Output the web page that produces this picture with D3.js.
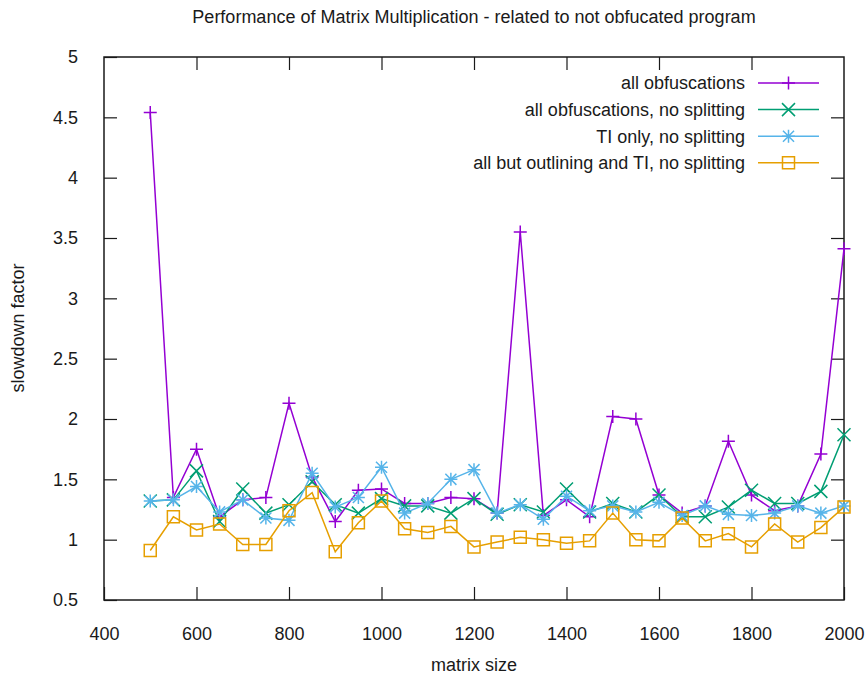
<!DOCTYPE html>
<html>
<head>
<meta charset="utf-8">
<script src="https://cdn.jsdelivr.net/npm/d3@7"></script>
<style>
  body { margin: 0; background: #fff; }
  text { font-family: "Liberation Sans", Arial, sans-serif; fill: #1a1a1a; }
</style>
</head>
<body>
<div id="chart"></div>
<script>
// matrix sizes
var sizes = [500, 550, 600, 650, 700, 750, 800, 850, 900, 950, 1000, 1050, 1100, 1150, 1200,
  1250, 1300, 1350, 1400, 1450, 1500, 1550, 1600, 1650, 1700, 1750, 1800, 1850, 1900, 1950, 2000];

// slowdown factors
var allObf = [4.54, 1.35, 1.75, 1.19, 1.33, 1.35, 2.13, 1.52, 1.15, 1.41, 1.42, 1.30, 1.30, 1.35, 1.34,
  1.22, 3.55, 1.20, 1.33, 1.19, 2.02, 2.00, 1.37, 1.22, 1.28, 1.815, 1.37, 1.24, 1.28, 1.71, 3.41];
var allObfNoSplit = [1.32, 1.33, 1.57, 1.15, 1.42, 1.22, 1.29, 1.48, 1.29, 1.22, 1.34, 1.28, 1.28, 1.22, 1.34,
  1.21, 1.29, 1.23, 1.42, 1.23, 1.30, 1.23, 1.37, 1.19, 1.19, 1.27, 1.41, 1.30, 1.30, 1.40, 1.87];
var tiOnly = [1.32, 1.33, 1.44, 1.23, 1.33, 1.18, 1.16, 1.55, 1.27, 1.35, 1.60, 1.22, 1.30, 1.50, 1.58,
  1.22, 1.29, 1.17, 1.36, 1.24, 1.28, 1.23, 1.31, 1.20, 1.28, 1.21, 1.20, 1.22, 1.28, 1.22, 1.28];
var butOutlining = [0.91, 1.19, 1.08, 1.13, 0.96, 0.96, 1.24, 1.39, 0.90, 1.14, 1.32, 1.09, 1.06, 1.11, 0.94,
  0.98, 1.02, 1.00, 0.97, 0.99, 1.22, 1.00, 0.99, 1.18, 0.99, 1.05, 0.94, 1.13, 0.98, 1.10, 1.27];

var seriesNames = ["all obfuscations", "all obfuscations, no splitting",
  "TI only, no splitting", "all but outlining and TI, no splitting"];
var seriesColors = ["#9400d3", "#009e73", "#56b4e9", "#e69f00"];
var seriesMarks = ["plus", "cross", "star", "square"];
var seriesValues = [allObf, allObfNoSplit, tiOnly, butOutlining];

var xTicks = [400, 600, 800, 1000, 1200, 1400, 1600, 1800, 2000];
var yTicks = [0.5, 1, 1.5, 2, 2.5, 3, 3.5, 4, 4.5, 5];

var W = 867, H = 678;
var margin = {top: 57, right: 23, bottom: 78, left: 104},
    width = W - margin.left - margin.right,
    height = H - margin.top - margin.bottom;

var fontSize = "18px";

var svg = d3.select("#chart").append("svg")
    .attr("width", W)
    .attr("height", H);

var g = svg.append("g")
    .attr("transform", "translate(" + margin.left + "," + margin.top + ")");

var x = d3.scaleLinear().domain([400, 2000]).range([0, width]);
var y = d3.scaleLinear().domain([0.5, 5]).range([height, 0]);

// axes with inward ticks, mirrored on top and right like gnuplot
function styleAxis(sel) {
  sel.select(".domain").remove();
  sel.selectAll("line").attr("stroke", "#1a1a1a").attr("stroke-width", 1.2);
  sel.selectAll("text").style("font-size", fontSize);
}

g.append("g")
    .attr("transform", "translate(0," + height + ")")
    .call(d3.axisBottom(x).tickValues(xTicks).tickSizeInner(-13).tickSizeOuter(0).tickPadding(27)
      .tickFormat(d3.format("d")))
    .call(styleAxis);
g.append("g")
    .call(d3.axisTop(x).tickValues(xTicks.slice(1, -1)).tickSizeInner(-13).tickSizeOuter(0).tickFormat(""))
    .call(styleAxis);
g.append("g")
    .call(d3.axisLeft(y).tickValues(yTicks).tickSizeInner(-13).tickSizeOuter(0).tickPadding(26)
      .tickFormat(d3.format("")))
    .call(styleAxis);
g.append("g")
    .attr("transform", "translate(" + width + ",0)")
    .call(d3.axisRight(y).tickValues(yTicks.slice(1, -1)).tickSizeInner(-13).tickSizeOuter(0).tickFormat(""))
    .call(styleAxis);

g.append("rect")
    .attr("width", width)
    .attr("height", height)
    .attr("fill", "none")
    .attr("stroke", "#1a1a1a")
    .attr("stroke-width", 1.5);

// marker shapes
function markerPath(type, s) {
  var h = s / 2;
  if (type === "plus") return "M" + (-h) + ",0H" + h + "M0," + (-h) + "V" + h;
  if (type === "cross") return "M" + (-h) + "," + (-h) + "L" + h + "," + h + "M" + (-h) + "," + h + "L" + h + "," + (-h);
  if (type === "star") return markerPath("plus", s) + markerPath("cross", s * 0.85);
  return "M" + (-h) + "," + (-h) + "H" + h + "V" + h + "H" + (-h) + "Z";
}

var line = d3.line()
    .x(function (d) { return x(d[0]); })
    .y(function (d) { return y(d[1]); });

seriesValues.forEach(function (vals, i) {
  var pts = sizes.map(function (s, j) { return [s, vals[j]]; });
  var sg = g.append("g");
  sg.append("path")
      .datum(pts)
      .attr("d", line)
      .attr("fill", "none")
      .attr("stroke", seriesColors[i])
      .attr("stroke-width", 1.5);
  sg.selectAll("path.mark")
      .data(pts)
      .enter()
      .append("path")
        .attr("class", "mark")
        .attr("transform", function (d) { return "translate(" + x(d[0]) + "," + y(d[1]) + ")"; })
        .attr("d", markerPath(seriesMarks[i], seriesMarks[i] === "square" ? 12 : 13))
        .attr("fill", "none")
        .attr("stroke", seriesColors[i])
        .attr("stroke-width", 1.5);
});

// legend
var legend = svg.append("g");
seriesNames.forEach(function (name, i) {
  var ly = 83 + i * 26.6;
  legend.append("text")
      .attr("x", 745)
      .attr("y", ly)
      .attr("dy", "0.35em")
      .attr("text-anchor", "end")
      .style("font-size", fontSize)
      .text(name);
  legend.append("line")
      .attr("x1", 758).attr("x2", 819)
      .attr("y1", ly).attr("y2", ly)
      .attr("stroke", seriesColors[i])
      .attr("stroke-width", 1.5);
  legend.append("path")
      .attr("transform", "translate(788.5," + ly + ")")
      .attr("d", markerPath(seriesMarks[i], seriesMarks[i] === "square" ? 12 : 13))
      .attr("fill", "none")
      .attr("stroke", seriesColors[i])
      .attr("stroke-width", 1.5);
});

// titles
svg.append("text")
    .attr("x", 474)
    .attr("y", 17)
    .attr("dy", "0.35em")
    .attr("text-anchor", "middle")
    .style("font-size", fontSize)
    .text("Performance of Matrix Multiplication - related to not obfucated program");

svg.append("text")
    .attr("x", 474)
    .attr("y", 665)
    .attr("dy", "0.35em")
    .attr("text-anchor", "middle")
    .style("font-size", fontSize)
    .text("matrix size");

svg.append("text")
    .attr("transform", "translate(18,328) rotate(-90)")
    .attr("dy", "0.35em")
    .attr("text-anchor", "middle")
    .style("font-size", fontSize)
    .text("slowdown factor");
</script>
</body>
</html>
